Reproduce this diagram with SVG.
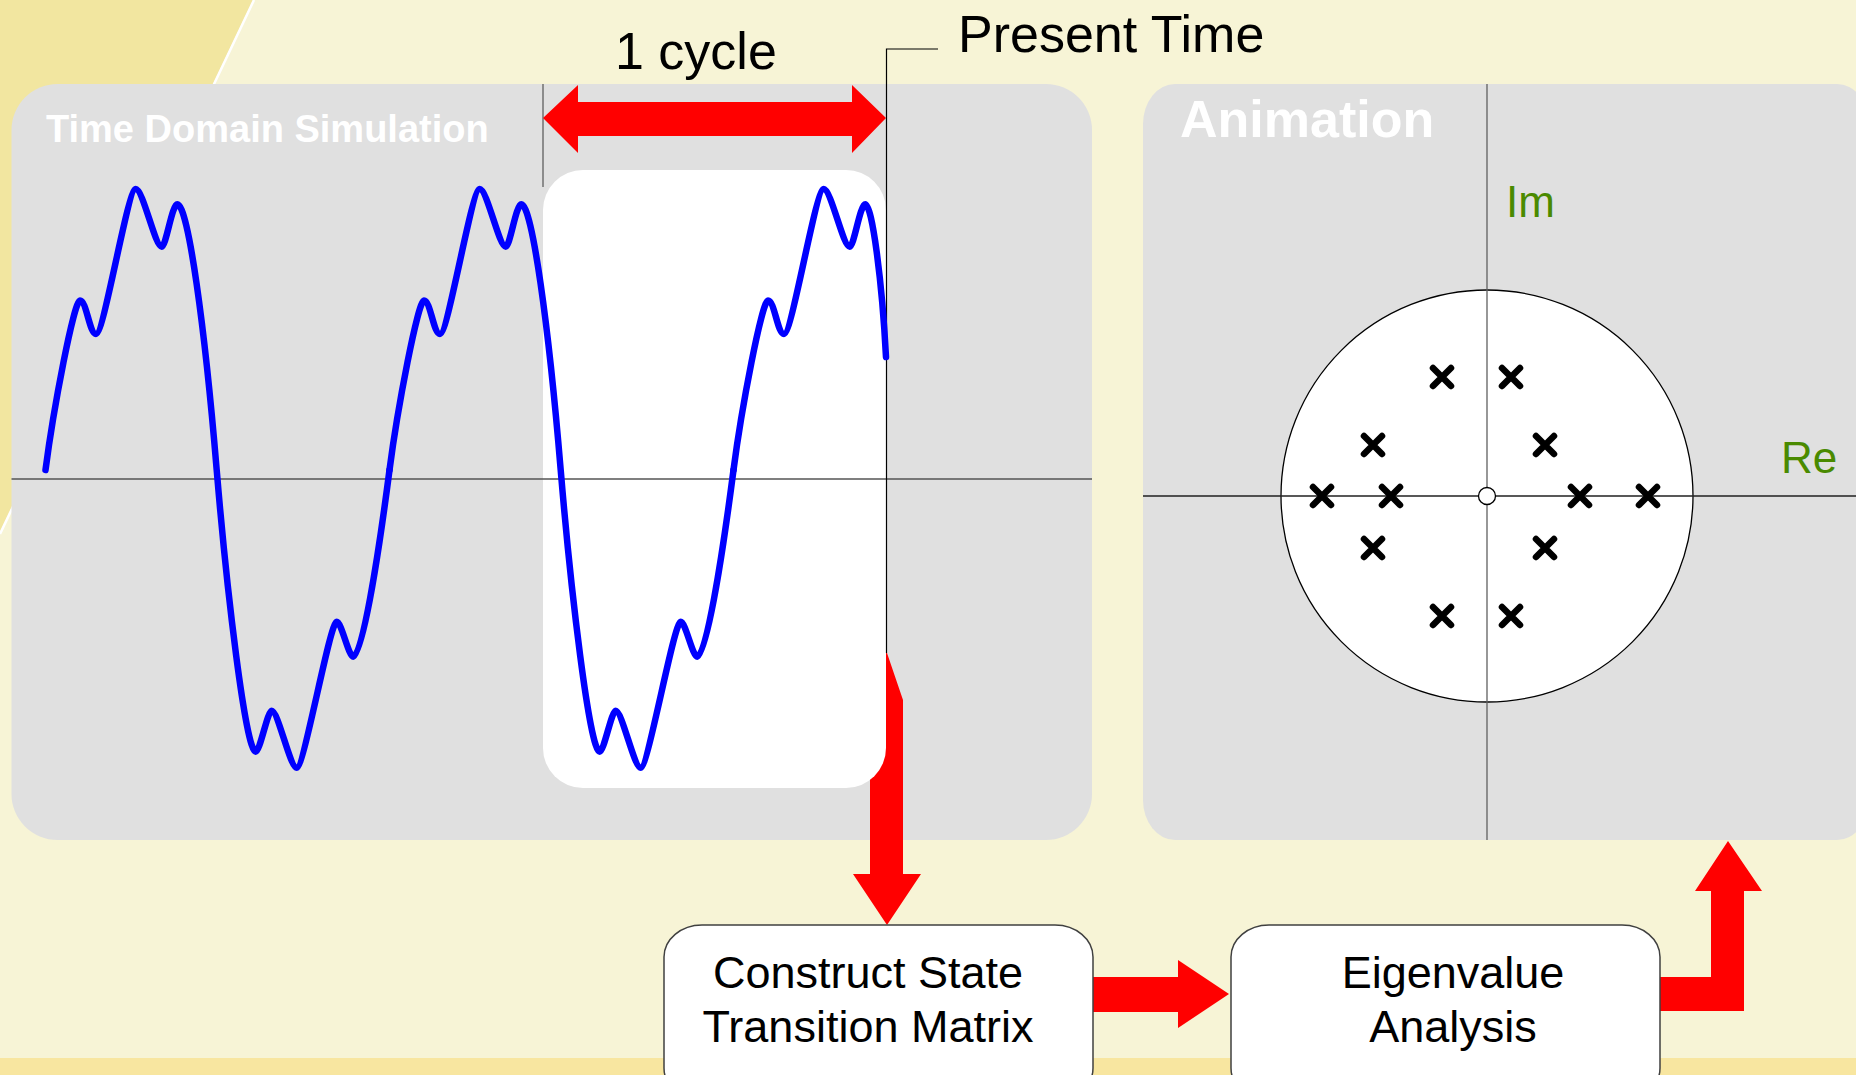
<svg xmlns="http://www.w3.org/2000/svg" xmlns:xlink="http://www.w3.org/1999/xlink" width="1856" height="1075" viewBox="0 0 1856 1075">
<style>
.panel{fill:#E0E0E0}
.title{font-family:"Liberation Sans",Arial,sans-serif;font-weight:bold;fill:#FFFFFF}
.lbl{font-family:"Liberation Sans",Arial,sans-serif;fill:#000000}
.axlbl{font-family:"Liberation Sans",Arial,sans-serif;fill:#4A8A00;font-size:44px}
.box{fill:#FFFFFF;stroke:#404040;stroke-width:1.5}
.red{fill:#FF0000}
.wave{fill:none;stroke:#0000FF;stroke-width:6.5;stroke-linecap:round;stroke-linejoin:round}
.xm{fill:none;stroke:#000000;stroke-width:6.5;stroke-linecap:round}
</style>
<defs>
<path id="wave1" class="wave" d="M45.5,470 C53.5,408.4 74,300.5 80,300.5 C86.5,300.5 89.5,334 96,334 C104,334 127.7,189 135.7,189 C143,189 155,246.7 161.7,246.7 C166,246.7 172,204.3 177.3,204.3 C188,204.3 204.7,326 216.7,470 C226.7,590 245.7,751.7 255.7,751.7 C260,751.7 267.5,710.7 271.7,710.7 C278,710.7 290,767.7 296.7,767.7 C304,767.7 330,621.7 336.7,621.7 C341.5,621.7 348.5,656.7 353.3,656.7 C362,656.7 377.5,562.4 389.5,470"/>
<path id="xmark" class="xm" d="M-9,-9 L9,9 M9,-9 L-9,9"/>
</defs>
<g id="background">
<rect x="0" y="0" width="1856" height="1075" fill="#F7F4D6"/>
<polygon points="0,0 253,0 0,532" fill="#F2E6A0"/>
<line x1="254" y1="0" x2="0" y2="534" stroke="#FFFFFF" stroke-width="2.5"/>
<rect x="0" y="1058" width="1856" height="17" fill="#F8E6A0"/>
</g>
<g id="time-domain-panel">
<rect class="panel" x="11.5" y="84" width="1080.5" height="756" rx="46" ry="46"/>
<text class="title" x="46" y="142" font-size="38">Time Domain Simulation</text>
</g>
<g id="animation-panel">
<rect class="panel" x="1143" y="84" width="726" height="756" rx="32" ry="40"/>
<text class="title" x="1180" y="137" font-size="52">Animation</text>
<circle cx="1487" cy="496" r="206" fill="#FFFFFF" stroke="#000000" stroke-width="1.3"/>
<line x1="1487" y1="84" x2="1487" y2="840" stroke="#606060" stroke-width="1.3"/>
<line x1="1143" y1="496" x2="1856" y2="496" stroke="#202020" stroke-width="1.3"/>
<circle cx="1487" cy="496" r="8.5" fill="#FFFFFF" stroke="#000000" stroke-width="1.3"/>
<text class="axlbl" x="1506" y="217">Im</text>
<text class="axlbl" x="1781" y="473">Re</text>
<g id="eigenvalues">
<use xlink:href="#xmark" x="1442" y="377"/>
<use xlink:href="#xmark" x="1511" y="377"/>
<use xlink:href="#xmark" x="1373" y="445"/>
<use xlink:href="#xmark" x="1545" y="445"/>
<use xlink:href="#xmark" x="1322" y="496"/>
<use xlink:href="#xmark" x="1391" y="496"/>
<use xlink:href="#xmark" x="1580" y="496"/>
<use xlink:href="#xmark" x="1648" y="496"/>
<use xlink:href="#xmark" x="1373" y="548"/>
<use xlink:href="#xmark" x="1545" y="548"/>
<use xlink:href="#xmark" x="1442" y="616"/>
<use xlink:href="#xmark" x="1511" y="616"/>
</g>
</g>
<g id="connectors">
<polygon id="arrow-down" class="red" points="870,653 887,653 903,700 903,874 921,874 887,925 853,874 870,874"/>
<polygon id="arrow-right" class="red" points="1093,977 1178,977 1178,960 1229,994 1178,1028 1178,1012 1093,1012"/>
<polygon id="arrow-up" class="red" points="1660,977 1711,977 1711,891 1695,891 1728,841 1762,891 1744,891 1744,1011 1660,1011"/>
</g>
<g id="cycle-window">
<rect x="543" y="170" width="343" height="618" rx="40" ry="40" fill="#FFFFFF"/>
</g>
<g id="waveform">
<line x1="11.5" y1="479" x2="1092" y2="479" stroke="#555555" stroke-width="1.3"/>
<line x1="543" y1="84" x2="543" y2="187" stroke="#707070" stroke-width="1.5"/>
<polyline points="938,49 886.5,49 886.5,653" fill="none" stroke="#000000" stroke-width="1.2"/>
<polygon id="cycle-arrow" class="red" points="543,118 578,85 578,102 852,102 852,85 886,118 852,153 852,136 578,136 578,153"/>
<use xlink:href="#wave1"/>
<use xlink:href="#wave1" transform="translate(344,0)"/>
<path class="wave" d="M733.5,470 C741.5,408.4 762,300.5 768,300.5 C774.5,300.5 777.5,334 784,334 C792,334 815.7,189 823.7,189 C831,189 843,246.7 849.7,246.7 C854,246.7 860,204.3 865.3,204.3 C872,204.3 882,280 886,357"/>
<text class="lbl" x="615" y="69" font-size="52">1 cycle</text>
<text class="lbl" x="958" y="52" font-size="52">Present Time</text>
</g>
<g id="box-stm">
<rect class="box" x="664" y="925" width="429" height="175" rx="38" ry="32"/>
<text class="lbl" x="868" y="988" font-size="45" text-anchor="middle">Construct State</text>
<text class="lbl" x="868" y="1042" font-size="45" text-anchor="middle">Transition Matrix</text>
</g>
<g id="box-eig">
<rect class="box" x="1231" y="925" width="429" height="175" rx="38" ry="32"/>
<text class="lbl" x="1453" y="988" font-size="45" text-anchor="middle">Eigenvalue</text>
<text class="lbl" x="1453" y="1042" font-size="45" text-anchor="middle">Analysis</text>
</g>
</svg>
